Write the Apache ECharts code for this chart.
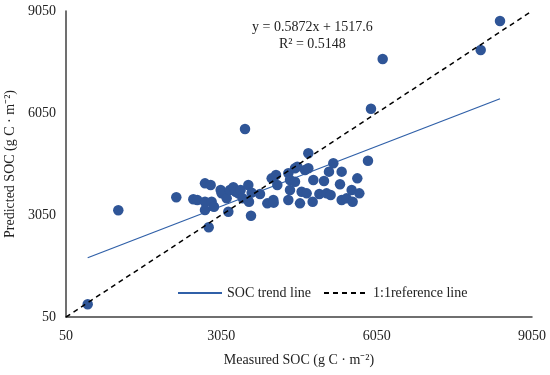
<!DOCTYPE html>
<html>
<head>
<meta charset="utf-8">
<script src="https://cdn.jsdelivr.net/npm/echarts@6/dist/echarts.min.js"></script>
<style>html,body{margin:0;padding:0;background:#fff}#c{width:550px;height:375px}</style>
</head>
<body>
<div id="c"></div>
<script>
var measured = [469,1060,8432,8059,6166,5940,3507,2806,
 2734,2844,2180,2509,2586,2734,2863,2734,2908,3037,3056,3153,3185,3217,3282,3327,3378,3423,3462,3571,3584,3623,3636,3797,3938,4054,4061,4022,4106,4131,4344,4376,4473,4518,4376,4344,4473,4569,4601,4698,4666,4730,4730,4814,4827,4943,5084,5161,5033,5129,5213,5342,5374,5374,5470,5567,5586,5676,5715,5882];
var predicted = [423,3188,8756,7903,7638,6177,5579,2688,
 3981,3932,3570,3511,3491,3442,3442,3197,3295,3785,3687,3540,3148,3785,3864,3736,3687,3785,3540,3932,3442,3030,3707,3668,3393,3491,3413,4128,4227,3932,4276,4079,4423,4472,3785,3491,4030,3393,3736,3687,4374,4423,4864,3442,4079,3668,3687,3638,4050,4325,4570,3952,4325,3491,3540,3785,3442,4128,3687,4647];
var slope = 0.5872, intercept = 1517.6;
var trendX = [469, 8432];
var refX = [50, 9050];
var axisTicks = [50, 3050, 6050, 9050];
var equationText = 'y = 0.5872x + 1517.6\nR\u00b2 = 0.5148';

var pts = measured.map(function(x,i){return [x, predicted[i]];});
var trend = trendX.map(function(x){return [x, slope*x+intercept];});
var ref = refX.map(function(x){return [x, x];});
var serif = '"Liberation Serif", "Times New Roman", serif';
var chart = echarts.init(document.getElementById('c'));
function axisCommon(name, gap, rotate){
  return {
    type:'value', min:50, max:9050,
    name:name, nameLocation:'middle', nameGap:gap,
    nameTextStyle:{fontFamily:serif, fontSize:14, color:'#222'},
    axisLine:{show:true, lineStyle:{color:'#404040', width:1.5}},
    axisTick:{show:false},
    splitLine:{show:false},
    axisLabel:{customValues:axisTicks, formatter:function(v){return String(v);}, fontFamily:serif, fontSize:14, color:'#222', margin:rotate?10:12}
  };
}
chart.setOption({
  animation:false,
  grid:{left:66, right:18, top:11, bottom:58, containLabel:false, outerBoundsMode:'none'},
  xAxis: axisCommon('Measured SOC (g C \u00b7 m\u207b\u00b2)', 36, false),
  yAxis: axisCommon('Predicted SOC (g C \u00b7 m\u207b\u00b2)', 47, true),
  legend:{
    data:['SOC trend line','1:1reference line'],
    left:172, top:281, itemWidth:44, itemHeight:10, itemGap:12,
    itemStyle:{opacity:0},
    textStyle:{fontFamily:serif, fontSize:14, color:'#222'}
  },
  graphic:[{
    type:'text', left:252, top:19,
    style:{text:equationText, font:'14px '+serif, fill:'#222', textAlign:'center', lineHeight:17, align:'center'}
  }],
  series:[
    {type:'scatter', name:'data', data:pts, symbolSize:10.5, itemStyle:{color:'#2F5597', opacity:1}, z:3},
    {type:'line', name:'SOC trend line', data:trend, showSymbol:false, symbol:'none', lineStyle:{color:'#3060A8', width:1.3}, z:2},
    {type:'line', name:'1:1reference line', data:ref, showSymbol:false, symbol:'none', lineStyle:{color:'#000', width:1.5, type:[5,4]}, itemStyle:{color:'#000'}, z:4}
  ]
});
</script>
</body>
</html>
